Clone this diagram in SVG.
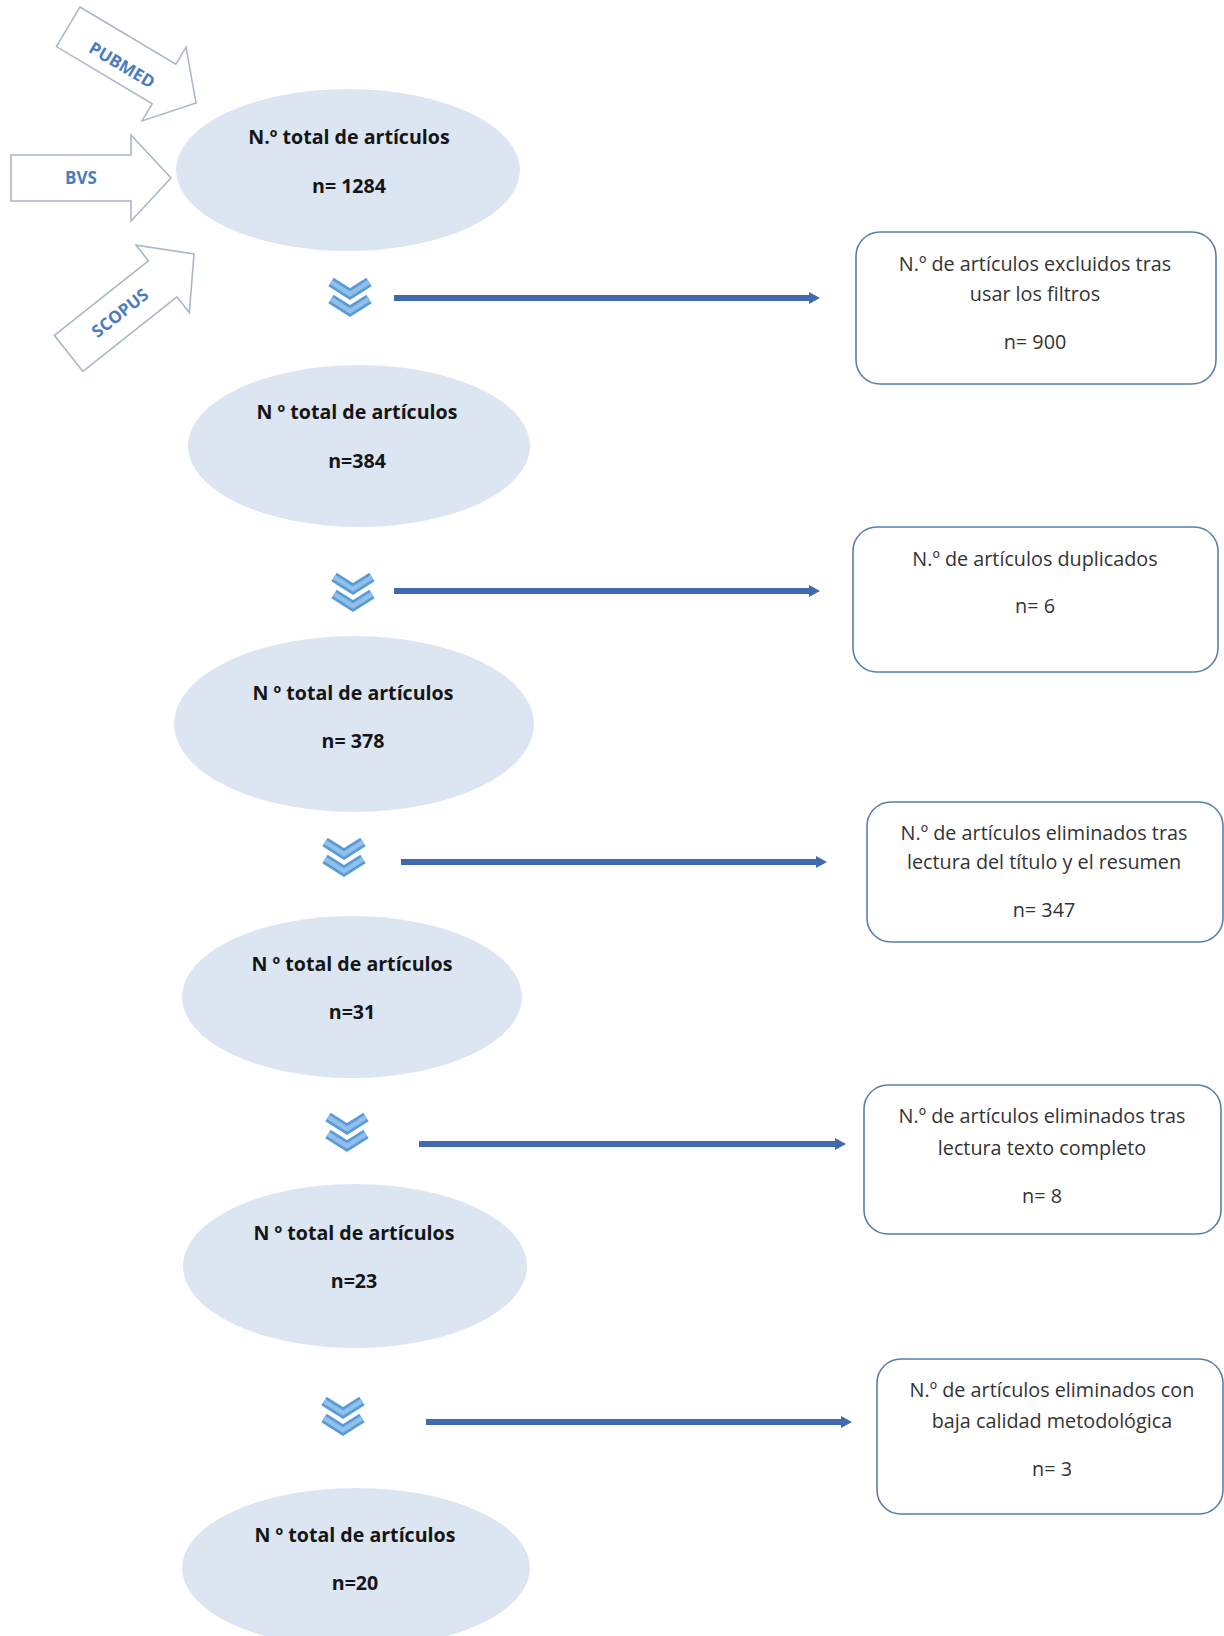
<svg xmlns="http://www.w3.org/2000/svg" width="1224" height="1636" viewBox="0 0 1224 1636">
<defs>
<style>
.ell{fill:#dce6f2;stroke:none}
.et{font-family:"Open Sans","Liberation Sans",sans-serif;font-weight:bold;font-size:19.6px;fill:#151515;text-anchor:middle}
.box{fill:#ffffff;stroke:#5a7fa8;stroke-width:1.6}
.bt{font-family:"Open Sans","Liberation Sans",sans-serif;font-size:19.8px;fill:#333333;text-anchor:middle}
.src{fill:#ffffff;stroke:#a9b8c8;stroke-width:1.6}
.st{font-family:"Open Sans","Liberation Sans",sans-serif;font-weight:bold;font-size:17px;fill:#4a7cbf;text-anchor:middle}
.flow{stroke:#4169b0;stroke-width:6;fill:none}
.chO{stroke:#5b9bd5;stroke-width:10;fill:none;stroke-linejoin:miter;stroke-linecap:butt}
.chI{stroke:#8fc0ec;stroke-width:4.5;fill:none;stroke-linejoin:miter;stroke-linecap:butt}
</style>
<marker id="ah" markerUnits="userSpaceOnUse" markerWidth="14" markerHeight="14" refX="2" refY="7" orient="auto">
<path d="M0,1 L11,7 L0,13 Z" fill="#4169b0"/>
</marker>
<g id="chev">
<path class="chO" d="M-19,-16 L0,-4 L19,-16 M-19,1 L0,13 L19,1"/>
<path class="chI" d="M-19,-16 L0,-4 L19,-16 M-19,1 L0,13 L19,1"/>
</g>
<path id="blk" d="M-160,-23 L-40,-23 L-40,-43 L0,0 L-40,43 L-40,23 L-160,23 Z"/>
</defs>
<rect width="1224" height="1636" fill="#ffffff"/>

<g id="src-pubmed">
<use href="#blk" class="src" transform="translate(196,103) rotate(30.8) scale(0.93,1)"/>
<text class="st" transform="translate(122,65) rotate(30.8)" y="6">PUBMED</text>
</g>
<g id="src-bvs">
<use href="#blk" class="src" transform="translate(171,178)"/>
<text class="st" x="81" y="184">BVS</text>
</g>
<g id="src-scopus">
<use href="#blk" class="src" transform="translate(194,254) rotate(-38.4)"/>
<text class="st" transform="translate(120,313) rotate(-38.4)" y="6">SCOPUS</text>
</g>

<g id="n1">
<ellipse class="ell" cx="348" cy="170" rx="172" ry="81"/>
<text class="et" x="349" y="144">N.º total de artículos</text>
<text class="et" x="349" y="193">n= 1284</text>
</g>
<g id="n2">
<ellipse class="ell" cx="359" cy="446" rx="171" ry="81"/>
<text class="et" x="357" y="419">N º total de artículos</text>
<text class="et" x="357" y="468">n=384</text>
</g>
<g id="n3">
<ellipse class="ell" cx="354" cy="724" rx="180" ry="88"/>
<text class="et" x="353" y="700">N º total de artículos</text>
<text class="et" x="353" y="748">n= 378</text>
</g>
<g id="n4">
<ellipse class="ell" cx="352" cy="997" rx="170" ry="81"/>
<text class="et" x="352" y="971">N º total de artículos</text>
<text class="et" x="352" y="1019">n=31</text>
</g>
<g id="n5">
<ellipse class="ell" cx="355" cy="1266" rx="172" ry="82"/>
<text class="et" x="354" y="1240">N º total de artículos</text>
<text class="et" x="354" y="1288">n=23</text>
</g>
<g id="n6">
<ellipse class="ell" cx="356" cy="1568" rx="174" ry="80"/>
<text class="et" x="355" y="1542">N º total de artículos</text>
<text class="et" x="355" y="1590">n=20</text>
</g>

<g id="b1">
<rect class="box" x="856" y="232" width="360" height="152" rx="24"/>
<text class="bt" x="1035" y="271">N.º de artículos excluidos tras</text>
<text class="bt" x="1035" y="301">usar los filtros</text>
<text class="bt" x="1035" y="349">n= 900</text>
</g>
<g id="b2">
<rect class="box" x="853" y="527" width="365" height="145" rx="24"/>
<text class="bt" x="1035" y="566">N.º de artículos duplicados</text>
<text class="bt" x="1035" y="613">n= 6</text>
</g>
<g id="b3">
<rect class="box" x="867" y="802" width="356" height="140" rx="24"/>
<text class="bt" x="1044" y="840">N.º de artículos eliminados tras</text>
<text class="bt" x="1044" y="869">lectura del título y el resumen</text>
<text class="bt" x="1044" y="917">n= 347</text>
</g>
<g id="b4">
<rect class="box" x="864" y="1085" width="357" height="149" rx="24"/>
<text class="bt" x="1042" y="1123">N.º de artículos eliminados tras</text>
<text class="bt" x="1042" y="1155">lectura texto completo</text>
<text class="bt" x="1042" y="1203">n= 8</text>
</g>
<g id="b5">
<rect class="box" x="877" y="1359" width="346" height="155" rx="24"/>
<text class="bt" x="1052" y="1397">N.º de artículos eliminados con</text>
<text class="bt" x="1052" y="1428">baja calidad metodológica</text>
<text class="bt" x="1052" y="1476">n= 3</text>
</g>

<g id="connectors">
<use href="#chev" transform="translate(350,298)"/>
<use href="#chev" transform="translate(353,593)"/>
<use href="#chev" transform="translate(344,858)"/>
<use href="#chev" transform="translate(347,1133)"/>
<use href="#chev" transform="translate(343,1417)"/>
<line class="flow" x1="394" y1="298" x2="811" y2="298" marker-end="url(#ah)"/>
<line class="flow" x1="394" y1="591" x2="811" y2="591" marker-end="url(#ah)"/>
<line class="flow" x1="401" y1="862" x2="818" y2="862" marker-end="url(#ah)"/>
<line class="flow" x1="419" y1="1144" x2="837" y2="1144" marker-end="url(#ah)"/>
<line class="flow" x1="426" y1="1422" x2="843" y2="1422" marker-end="url(#ah)"/>
</g>
</svg>
